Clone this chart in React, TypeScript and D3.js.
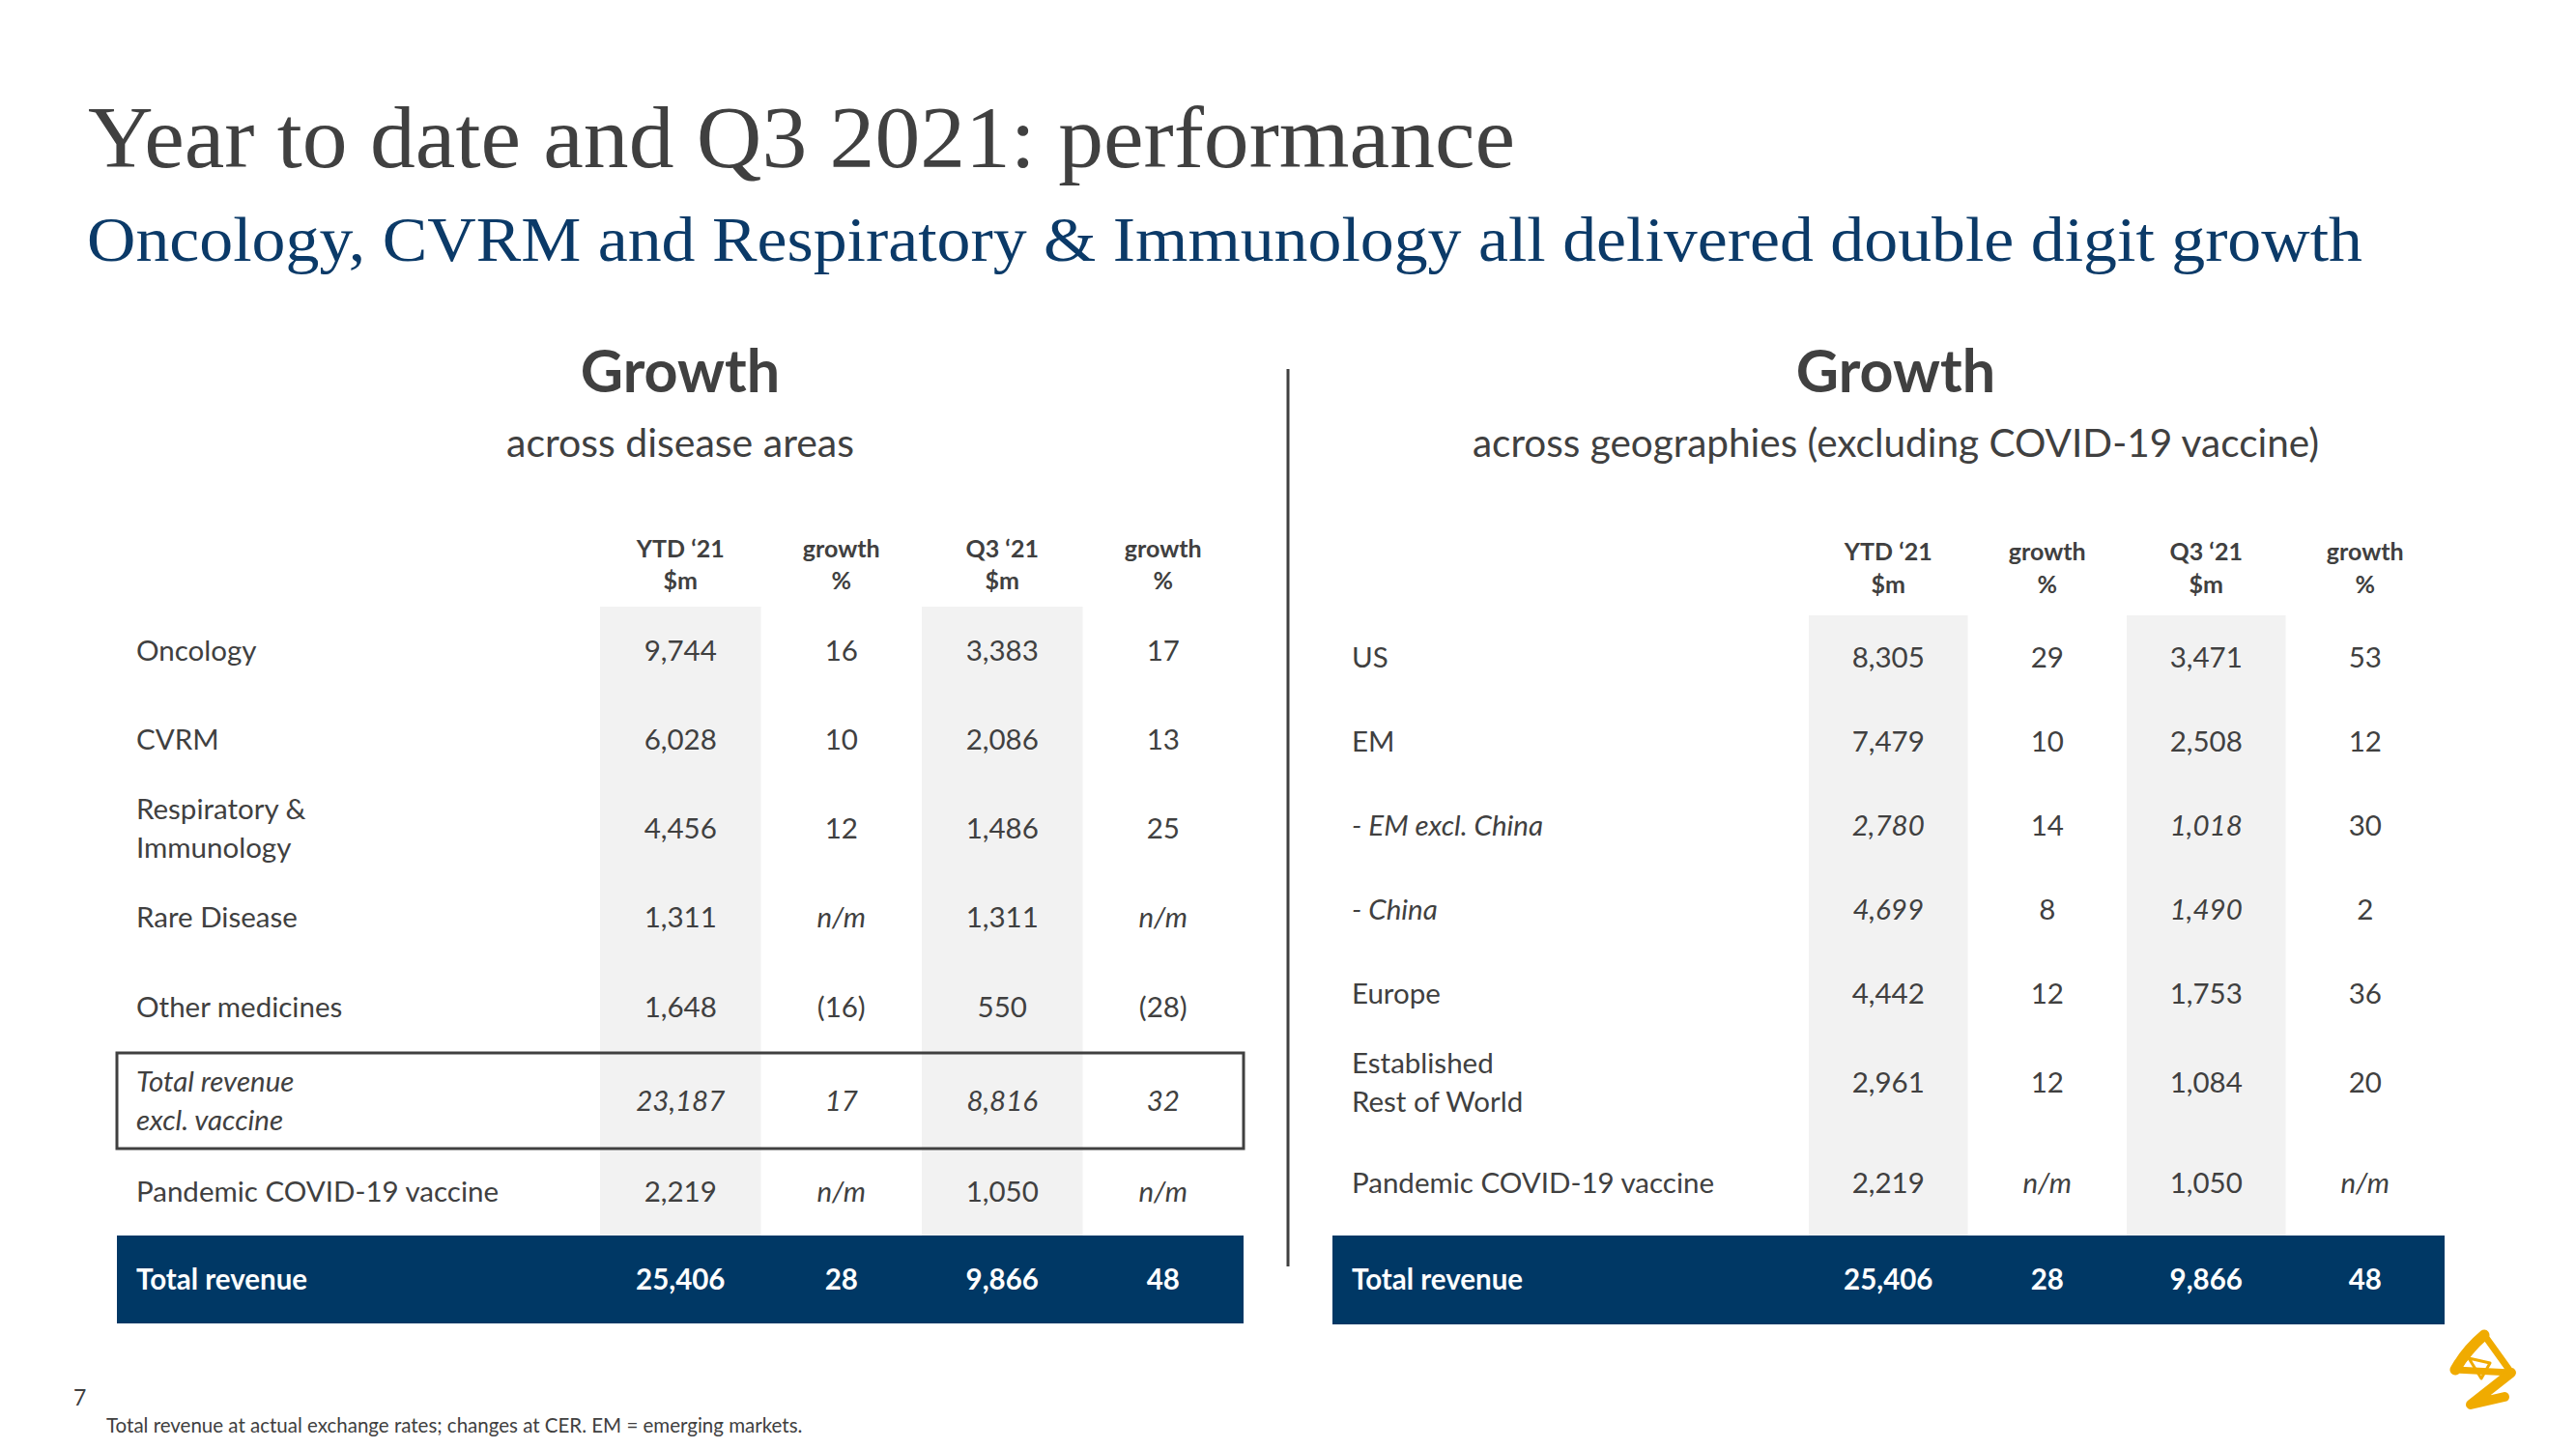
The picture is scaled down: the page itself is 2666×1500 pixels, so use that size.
import * as d3 from "d3";

// ---- data ----
const leftRows = [
  "Oncology",
  "CVRM",
  "Respiratory &\nImmunology",
  "Rare Disease",
  "Other medicines",
  "Total revenue\nexcl. vaccine",
  "Pandemic COVID-19 vaccine",
  "Total revenue",
];
const leftYtd = [9744, 6028, 4456, 1311, 1648, 23187, 2219, 25406];
const leftYtdGrowth = [16, 10, 12, null, -16, 17, null, 28];
const leftQ3 = [3383, 2086, 1486, 1311, 550, 8816, 1050, 9866];
const leftQ3Growth = [17, 13, 25, null, -28, 32, null, 48];

const rightRows = [
  "US",
  "EM",
  "- EM excl. China",
  "- China",
  "Europe",
  "Established\nRest of World",
  "Pandemic COVID-19 vaccine",
  "Total revenue",
];
const rightYtd = [8305, 7479, 2780, 4699, 4442, 2961, 2219, 25406];
const rightYtdGrowth = [29, 10, 14, 8, 12, 12, null, 28];
const rightQ3 = [3471, 2508, 1018, 1490, 1753, 1084, 1050, 9866];
const rightQ3Growth = [53, 12, 30, 2, 36, 20, null, 48];

const colHeaders = [
  ["YTD \u201821", "$m"],
  ["growth", "%"],
  ["Q3 \u201821", "$m"],
  ["growth", "%"],
];

// ---- styling / layout ----
const W = 2666, H = 1500;
const GREY = "#404040";
const NAVY = "#003865";
const SHADE = "#f2f2f2";
const SANS = "Lato, 'Open Sans', sans-serif";
const SERIF = "'Liberation Serif', 'DejaVu Serif', serif";
const CELL = 29.5;

const money = d3.format(",");
const pct = (v: number | null) => (v == null ? "n/m" : v < 0 ? `(${-v})` : `${v}`);

type Layout = {
  labelX: number;
  left: number;
  colStart: number;
  right: number;
  top: number;
  rowHeights: number[];
  headerY: [number, number];
  italicAll: number[];
  italicMoney: number[];
  boxed: number[];
};

const leftLayout: Layout = {
  labelX: 141, left: 121, colStart: 621, right: 1287, top: 628,
  rowHeights: [92, 92, 92, 92, 94, 99, 90, 91],
  headerY: [577, 610],
  italicAll: [5], italicMoney: [], boxed: [5],
};
const rightLayout: Layout = {
  labelX: 1399, left: 1379, colStart: 1872, right: 2530, top: 637,
  rowHeights: [87, 87, 87, 87, 87, 98, 109, 92],
  headerY: [580, 614],
  italicAll: [], italicMoney: [2, 3], boxed: [],
};

function Table({ rows, cols, layout }: { rows: string[]; cols: (number | null)[][]; layout: Layout }) {
  const x = d3.scaleBand<number>().domain(d3.range(4)).range([layout.colStart, layout.right]);
  const tops = [layout.top, ...Array.from(d3.cumsum(layout.rowHeights), (c) => layout.top + c)];
  const y = d3.scaleOrdinal<number, number>().domain(d3.range(rows.length)).range(tops);
  const last = rows.length - 1;
  const cx = (c: number) => x(c)! + x.bandwidth() / 2;
  const mid = (r: number) => y(r) + layout.rowHeights[r] / 2;

  return (
    <g>
      {[0, 2].map((c) => (
        <rect key={c} x={x(c)} y={layout.top} width={x.bandwidth()} height={y(last) - layout.top} fill={SHADE} />
      ))}
      {colHeaders.map((hd, c) => (
        <text key={c} x={cx(c)} textAnchor="middle" fontFamily={SANS} fontWeight={700} fontSize={25} fill={GREY}>
          <tspan x={cx(c)} y={layout.headerY[0]}>{hd[0]}</tspan>
          <tspan x={cx(c)} y={layout.headerY[1]}>{hd[1]}</tspan>
        </text>
      ))}
      <rect x={layout.left} y={y(last)} width={layout.right - layout.left} height={layout.rowHeights[last]} fill={NAVY} />
      {layout.boxed.map((r) => (
        <rect key={r} x={layout.left} y={y(r)} width={layout.right - layout.left} height={layout.rowHeights[r]}
          fill="none" stroke={GREY} strokeWidth={3} />
      ))}
      {rows.map((label, r) => {
        const isTotal = r === last;
        const color = isTotal ? "#ffffff" : GREY;
        const weight = isTotal ? 700 : 400;
        const allIt = layout.italicAll.includes(r);
        const monIt = allIt || layout.italicMoney.includes(r);
        const lines = label.split("\n");
        const m = mid(r);
        return (
          <g key={r}>
            <text fontFamily={SANS} fontSize={CELL} fill={color} fontWeight={weight}
              fontStyle={monIt ? "italic" : "normal"}>
              {lines.map((ln, i) => (
                <tspan key={i} x={layout.labelX} y={m + 10 + (i - (lines.length - 1) / 2) * 40}>{ln}</tspan>
              ))}
            </text>
            {cols.map((col, c) => {
              const v = col[r];
              const isMoney = c % 2 === 0;
              const txt = isMoney ? money(v as number) : pct(v);
              const it = v == null || (isMoney ? monIt : allIt);
              return (
                <text key={c} x={cx(c)} y={m + 10} textAnchor="middle" fontFamily={SANS} fontSize={CELL}
                  fill={color} fontWeight={weight} fontStyle={it ? "italic" : "normal"}>
                  {txt}
                </text>
              );
            })}
          </g>
        );
      })}
    </g>
  );
}

function Logo() {
  const gold = "#F0AB00";
  return (
    <g fill="none" stroke={gold} strokeLinejoin="round" strokeLinecap="round">
      <path d="M2571,1382 L2541,1418 L2599,1421 Z" strokeWidth={7} />
      <path d="M2571,1382 Q2552,1398 2541,1418" strokeWidth={11} />
      <path d="M2599,1421 L2557,1454 L2592,1446" strokeWidth={10} />
      <path d="M2555,1406 L2577,1411 L2568,1427 Z" strokeWidth={3} />
    </g>
  );
}

export default function App() {
  return (
    <svg width={W} height={H} style={{ position: "absolute", left: 0, top: 0, background: "#fff" }}>
      <rect width={W} height={H} fill="#ffffff" />
      <text x={91} y={173} fontFamily={SERIF} fontSize={90} fill={GREY} textLength={1477} lengthAdjust="spacingAndGlyphs">
        Year to date and Q3 2021: performance
      </text>
      <text x={90} y={270} fontFamily={SERIF} fontSize={66} fill="#0b3a68" textLength={2355} lengthAdjust="spacingAndGlyphs">
        Oncology, CVRM and Respiratory &amp; Immunology all delivered double digit growth
      </text>

      <text x={704} y={406} textAnchor="middle" fontFamily={SANS} fontWeight={700} fontSize={61} fill={GREY}>Growth</text>
      <text x={704} y={473} textAnchor="middle" fontFamily={SANS} fontSize={41} fill={GREY}>across disease areas</text>
      <text x={1962} y={406} textAnchor="middle" fontFamily={SANS} fontWeight={700} fontSize={61} fill={GREY}>Growth</text>
      <text x={1962} y={473} textAnchor="middle" fontFamily={SANS} fontSize={40.5} fill={GREY}>
        across geographies (excluding COVID-19 vaccine)
      </text>

      <line x1={1333} x2={1333} y1={382} y2={1311} stroke={GREY} strokeWidth={3} />

      <Table rows={leftRows} cols={[leftYtd, leftYtdGrowth, leftQ3, leftQ3Growth]} layout={leftLayout} />
      <Table rows={rightRows} cols={[rightYtd, rightYtdGrowth, rightQ3, rightQ3Growth]} layout={rightLayout} />

      <text x={76} y={1455} fontFamily={SANS} fontSize={23} fill={GREY}>7</text>
      <text x={110} y={1483} fontFamily={SANS} fontSize={20.5} fill={GREY}>
        Total revenue at actual exchange rates; changes at CER. EM = emerging markets.
      </text>
      <Logo />
    </svg>
  );
}
